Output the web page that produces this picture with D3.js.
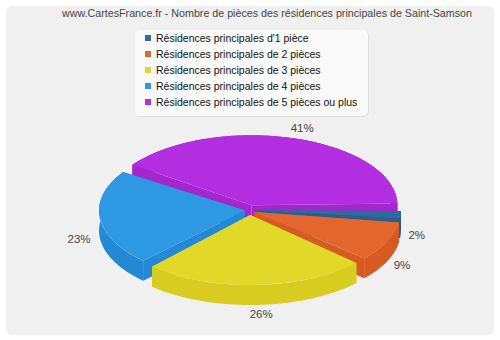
<!DOCTYPE html>
<html>
<head>
<meta charset="utf-8">
<script src="https://cdn.jsdelivr.net/npm/d3@7"></script>
<style>
html, body { margin: 0; padding: 0; background: #fff; }
svg { display: block; }
text { font-family: "Liberation Sans", sans-serif; }
</style>
</head>
<body>
<svg id="canvas" width="500" height="340"></svg>
<script>
let title = "www.CartesFrance.fr - Nombre de pièces des résidences principales de Saint-Samson"
let categories = [
    "Résidences principales d'1 pièce",
    "Résidences principales de 2 pièces",
    "Résidences principales de 3 pièces",
    "Résidences principales de 4 pièces",
    "Résidences principales de 5 pièces ou plus"
]
let shares = [1.7, 9.4, 25.4, 22.6, 40.9]
let percentLabels = ["2%", "9%", "26%", "23%", "41%"]
let topColors = ["#336a9e", "#e2662d", "#e2d82a", "#2f98e2", "#b22ee0"]
let sideColors = ["#2b5c92", "#d65a22", "#d8cc20", "#2389d6", "#a526cf"]

let svg = d3.select('#canvas')

let cx = 250, cy = 210, rx = 146, ry = 70, depth = 20, explode = 5
let gap = 2 * Math.PI / 180

// frame
svg.append('rect').attr('x', 5.5).attr('y', 5.5).attr('width', 489).attr('height', 330)
    .attr('rx', 7).attr('fill', '#f0f0f0').attr('stroke', '#fafafa').attr('stroke-width', 1.5)

svg.append('text').attr('x', 267).attr('y', 17).attr('text-anchor', 'middle')
    .attr('font-size', 10.7).attr('fill', '#444').text(title)

// legend
svg.append('rect').attr('x', 136).attr('y', 31).attr('width', 233).attr('height', 86)
    .attr('rx', 5).attr('fill', '#dedede')
svg.append('rect').attr('x', 135).attr('y', 30).attr('width', 233).attr('height', 86)
    .attr('rx', 5).attr('fill', '#fafafa')

let legendY = d3.scalePoint().domain(categories).range([38, 102])

let legendRow = svg.selectAll('g.legend')
    .data(categories)
    .enter()
    .append('g')
    .attr('class', 'legend')
    .attr('transform', (d) => 'translate(0,' + legendY(d) + ')')

legendRow.append('rect').attr('x', 145).attr('y', -3).attr('width', 6).attr('height', 6)
    .attr('fill', (d, i) => topColors[i])
legendRow.append('text').attr('x', 156).attr('y', 4)
    .attr('font-size', 10.5).attr('fill', '#111').text((d) => d)

// pie, clockwise from 3 o'clock
let pie = d3.pie().sort(null).padAngle(gap)
    .startAngle(Math.PI / 2 - gap / 4).endAngle(Math.PI * 2.5 - gap / 4)
let slices = pie(shares).map((d, i) => {
    let mid = (d.startAngle + d.endAngle) / 2
    return {
        index: i,
        start: d.startAngle + gap / 2,
        end: d.endAngle - gap / 2,
        mid: mid,
        ox: cx + explode * Math.sin(mid),
        oy: cy - explode * Math.cos(mid)
    }
})

let arc = d3.arc().innerRadius(0).outerRadius(rx)
let rimX = (s, a) => s.ox + rx * Math.sin(a)
let rimY = (s, a) => s.oy - ry * Math.cos(a)
let line = d3.line()

let wallPath = (s, a) => line([
    [s.ox, s.oy], [rimX(s, a), rimY(s, a)],
    [rimX(s, a), rimY(s, a) + depth], [s.ox, s.oy + depth]
]) + 'Z'

let outerPath = (s) => {
    let angles = d3.range(s.start, s.end, 0.02).concat([s.end])
    let upper = angles.map((a) => [rimX(s, a), rimY(s, a)])
    let lower = angles.slice().reverse().map((a) => [rimX(s, a), rimY(s, a) + depth])
    return line(upper.concat(lower)) + 'Z'
}

// back to front
let drawOrder = [4, 0, 1, 3, 2]

drawOrder.forEach((i) => {
    let s = slices[i]
    let g = svg.append('g')
    g.append('path').attr('d', wallPath(s, s.start)).attr('fill', sideColors[i])
    g.append('path').attr('d', wallPath(s, s.end)).attr('fill', sideColors[i])
    g.append('path').attr('d', outerPath(s)).attr('fill', sideColors[i])
    g.append('path')
        .attr('d', arc({ startAngle: s.start, endAngle: s.end }))
        .attr('transform', 'translate(' + s.ox + ',' + s.oy + ') scale(1,' + ry / rx + ')')
        .attr('fill', topColors[i])
})

// percent labels
svg.selectAll('text.pct')
    .data(slices)
    .enter()
    .append('text')
    .attr('class', 'pct')
    .attr('x', (d) => {
        let h = Math.sin(d.mid)
        return 255 + h * (h > 0 ? 162 : 177)
    })
    .attr('y', (d) => {
        let v = -Math.cos(d.mid)
        return 230 + v * (v < 0 ? 107 : 84) + 4
    })
    .attr('text-anchor', 'middle')
    .attr('font-size', 11.5)
    .attr('fill', '#444')
    .text((d) => percentLabels[d.index])
</script>
</body>
</html>
